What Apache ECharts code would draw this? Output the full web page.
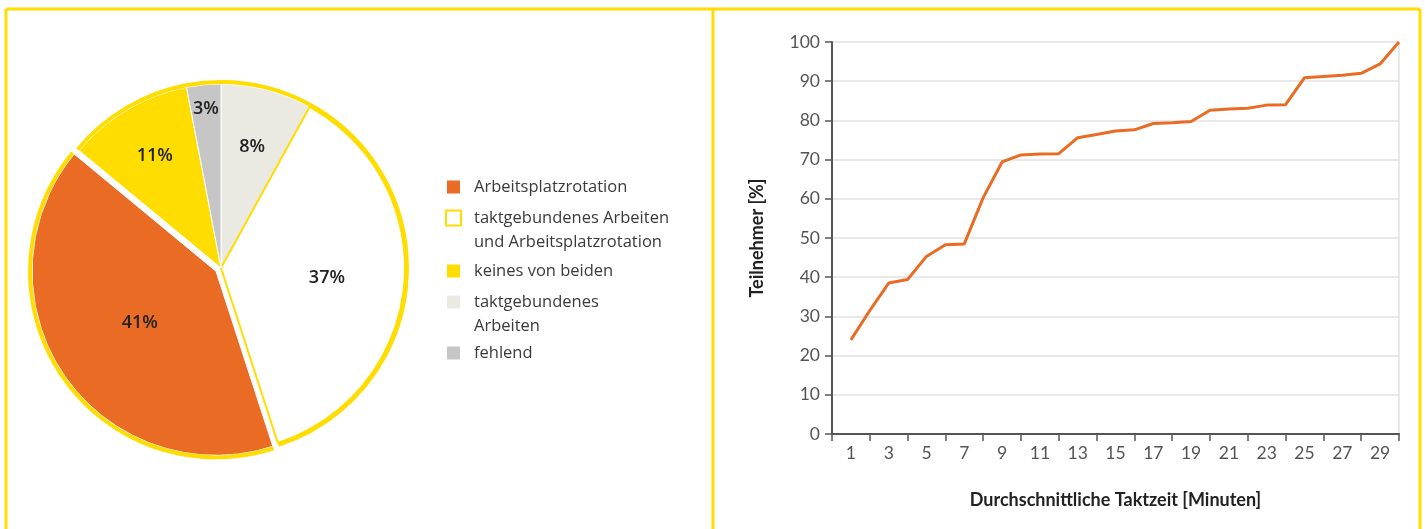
<!DOCTYPE html>
<html>
<head>
<meta charset="utf-8">
<script src="https://cdn.jsdelivr.net/npm/echarts@6/dist/echarts.min.js"></script>
<style>
  html, body { margin: 0; padding: 0; background: #fff; }
  #main { width: 1425px; height: 529px; }
</style>
</head>
<body>
<div id="main"></div>
<script>
// Anteile (Kreisdiagramm), im Uhrzeigersinn ab 12 Uhr
var pieNames = ['taktgebundenes Arbeiten', 'taktgebundenes Arbeiten und Arbeitsplatzrotation',
                'Arbeitsplatzrotation', 'keines von beiden', 'fehlend'];
var pieValues = [8, 37, 41, 11, 3];
// Reihenfolge in der Legende
var legendOrder = ['Arbeitsplatzrotation', 'taktgebundenes Arbeiten und Arbeitsplatzrotation',
                   'keines von beiden', 'taktgebundenes Arbeiten', 'fehlend'];

// Linie: Taktzeit in Minuten / Teilnehmer kumuliert in %
var minutes = [1, 2, 3, 4, 5, 6, 7, 8, 9, 10, 11, 12, 13, 14, 15,
               16, 17, 18, 19, 20, 21, 22, 23, 24, 25, 26, 27, 28, 29, 30];
var teilnehmer = [24, 31.5, 38.5, 39.4, 45.3, 48.3, 48.5, 60.3, 69.4, 71.2, 71.4, 71.5, 75.6, 76.4, 77.3,
                  77.6, 79.2, 79.4, 79.7, 82.6, 82.9, 83.1, 83.9, 84.0, 90.9, 91.2, 91.5, 92.0, 94.4, 100];
var xTicks = [0, 2, 4, 6, 8, 10, 12, 14, 16, 18, 20, 22, 24, 26, 28, 30];
var xLabels = [1, 3, 5, 7, 9, 11, 13, 15, 17, 19, 21, 23, 25, 27, 29];

var yellow = '#FFDD00';
var colorMap = {
    'Arbeitsplatzrotation': '#EA6B24',
    'taktgebundenes Arbeiten und Arbeitsplatzrotation': '#ffffff',
    'keines von beiden': '#FFDD00',
    'taktgebundenes Arbeiten': '#EAEAE2',
    'fehlend': '#C6C6C6'
};
// zweizeilige Legendentexte (Leerzeile davor, damit die erste Zeile neben dem Symbol steht)
var legendText = {
    'taktgebundenes Arbeiten und Arbeitsplatzrotation': ' \ntaktgebundenes Arbeiten\nund Arbeitsplatzrotation',
    'taktgebundenes Arbeiten': ' \ntaktgebundenes\nArbeiten'
};
var legendTops = [175, 182, 259, 266, 341];
// Abstand der Prozentlabels vom Mittelpunkt, relativ zur Standardposition
var labelRadiusFactor = [1.32, 1.12, 0.97, 1.37, 1.68];

var pieCenter = [221, 268];
var pieData = [];
var ringData = [];
for (var i = 0; i < pieNames.length; i++) {
    var n = pieNames[i];
    var isWhite = n === 'taktgebundenes Arbeiten und Arbeitsplatzrotation';
    pieData.push({
        name: n,
        value: pieValues[i],
        selected: n === 'Arbeitsplatzrotation',
        itemStyle: {
            color: colorMap[n],
            borderColor: isWhite ? yellow : '#ffffff',
            borderWidth: isWhite ? 2 : 1
        }
    });
    ringData.push({ name: n, value: pieValues[i], selected: n === 'Arbeitsplatzrotation' });
}

var font = 'Lato, "Open Sans", sans-serif';
var legendFont = '"Open Sans", Lato, sans-serif';

// eine Legende je Eintrag, damit die Zeilenabstände passen
var legends = legendOrder.map(function (n, k) {
    return {
        orient: 'vertical',
        left: 445,
        top: legendTops[k],
        padding: 0,
        itemWidth: 15,
        itemHeight: 15,
        selectedMode: false,
        icon: 'rect',
        data: [n],
        formatter: function (name) { return legendText[name] || name; },
        textStyle: { fontFamily: legendFont, fontSize: 16.5, color: '#3a3a3a', lineHeight: 24, padding: [0, 0, 0, 8] }
    };
});

var myChart = echarts.init(document.getElementById('main'));
var option = {
    animation: false,
    textStyle: { fontFamily: font },
    graphic: [
        { type: 'line', shape: { x1: 6, y1: 9, x2: 1420, y2: 9 }, style: { stroke: yellow, lineWidth: 3 } },
        { type: 'line', shape: { x1: 6, y1: 9, x2: 6, y2: 529 }, style: { stroke: yellow, lineWidth: 3 } },
        { type: 'line', shape: { x1: 713, y1: 9, x2: 713, y2: 529 }, style: { stroke: yellow, lineWidth: 3 } },
        { type: 'line', shape: { x1: 1420, y1: 9, x2: 1420, y2: 529 }, style: { stroke: yellow, lineWidth: 3 } }
    ],
    legend: legends,
    grid: { left: 832, right: 26, top: 42, bottom: 95 },
    xAxis: {
        type: 'value',
        min: 0,
        max: 30,
        name: 'Durchschnittliche Taktzeit [Minuten]',
        nameLocation: 'middle',
        nameGap: 57,
        nameTextStyle: { fontFamily: font, fontSize: 18, fontWeight: 'bold', color: '#222' },
        axisLine: { show: true, lineStyle: { color: '#555', width: 2 } },
        axisTick: { show: true, customValues: xTicks, length: 7, lineStyle: { color: '#555', width: 1.5 } },
        axisLabel: { customValues: xLabels, color: '#555', fontSize: 17.5, margin: 10 },
        splitLine: { show: false }
    },
    yAxis: [{
        type: 'value',
        min: 0,
        max: 100,
        interval: 10,
        name: 'Teilnehmer [%]',
        nameLocation: 'middle',
        nameGap: 66,
        nameRotate: 90,
        nameTextStyle: { fontFamily: font, fontSize: 18, fontWeight: 'bold', color: '#222' },
        axisLine: { show: true, lineStyle: { color: '#555', width: 2 } },
        axisTick: { show: true, length: 7, lineStyle: { color: '#555', width: 1.5 } },
        axisLabel: { color: '#555', fontSize: 17.5, margin: 12 },
        splitLine: { lineStyle: { color: '#e2e2e2', width: 1.5 } }
    }, {
        type: 'value',
        min: 0,
        max: 100,
        position: 'right',
        axisLine: { show: true, lineStyle: { color: '#e2e2e2', width: 1.5 } },
        axisTick: { show: false },
        axisLabel: { show: false },
        splitLine: { show: false }
    }],
    series: [
        {
            name: 'Anteile',
            type: 'pie',
            center: pieCenter,
            radius: [0, 184],
            startAngle: 90,
            clockwise: true,
            selectedMode: 'single',
            selectedOffset: 6,
            silent: true,
            label: {
                show: true,
                position: 'inner',
                formatter: '{c}%',
                fontFamily: legendFont,
                fontSize: 18,
                fontWeight: 600,
                color: '#222'
            },
            labelLine: { show: false },
            labelLayout: function (params) {
                var r = params.labelRect;
                var vx = r.x + r.width / 2 - pieCenter[0];
                var vy = r.y + r.height / 2 - pieCenter[1];
                var f = labelRadiusFactor[params.dataIndex] - 1;
                return { dx: vx * f, dy: vy * f };
            },
            data: pieData
        },
        {
            name: 'Rand',
            type: 'pie',
            center: pieCenter,
            radius: [184, 188],
            startAngle: 90,
            clockwise: true,
            selectedMode: 'single',
            selectedOffset: 6,
            silent: true,
            label: { show: false },
            labelLine: { show: false },
            itemStyle: { color: yellow, borderWidth: 0 },
            data: ringData
        },
        {
            name: 'Teilnehmer',
            type: 'line',
            showSymbol: false,
            symbol: 'none',
            lineStyle: { color: '#EA6B24', width: 3 },
            data: minutes.map(function (m, k) { return [m, teilnehmer[k]]; })
        }
    ]
};
myChart.setOption(option);
</script>
</body>
</html>
